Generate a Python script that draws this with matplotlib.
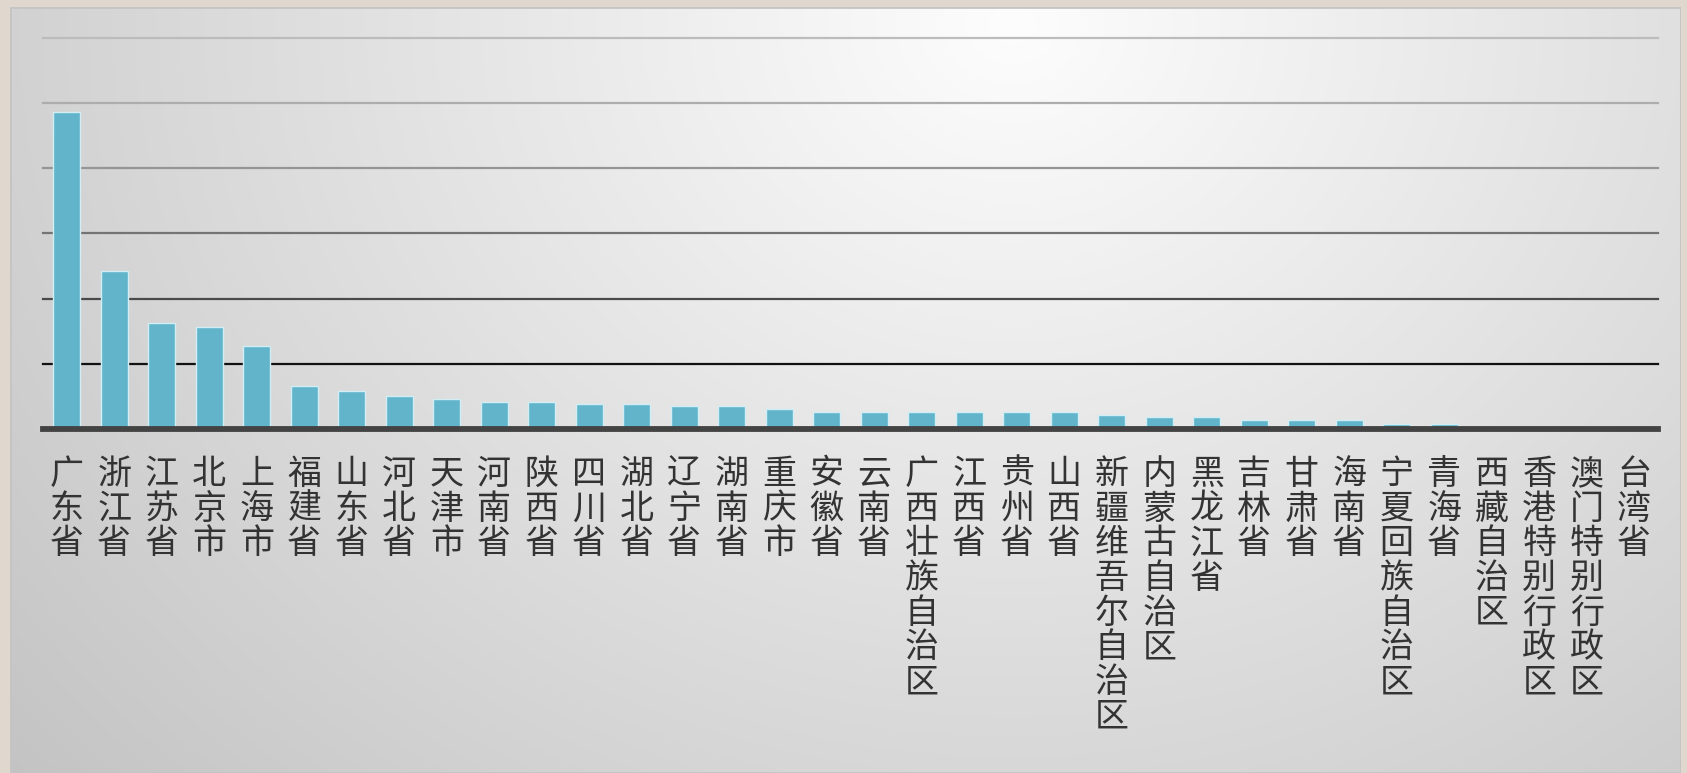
import numpy as np
import matplotlib
matplotlib.use("Agg")
import matplotlib.pyplot as plt

plt.rcParams['font.family'] = ['Noto Sans CJK SC', 'DejaVu Sans']

categories = ["广东省", "浙江省", "江苏省", "北京市", "上海市", "福建省", "山东省", "河北省",
              "天津市", "河南省", "陕西省", "四川省", "湖北省", "辽宁省", "湖南省", "重庆市",
              "安徽省", "云南省", "广西壮族自治区", "江西省", "贵州省", "山西省",
              "新疆维吾尔自治区", "内蒙古自治区", "黑龙江省", "吉林省", "甘肃省", "海南省",
              "宁夏回族自治区", "青海省", "西藏自治区", "香港特别行政区", "澳门特别行政区", "台湾省"]
values = [487, 243, 163, 156, 127, 66, 58, 51,
          46, 42, 42, 38, 38, 35, 35, 30,
          26, 26, 26, 26, 26, 26,
          22, 18, 18, 14, 14, 14,
          7, 7, 0, 0, 0, 0]
grid_levels = [100, 200, 300, 400, 500, 600]
grid_colors = ["#111111", "#4a4a4a", "#747474", "#959595", "#adadad", "#bcbcbc"]

W, H = 1687, 773
fig = plt.figure(figsize=(W / 100, H / 100), dpi=100)
fig.patch.set_facecolor("#e0d8cf")

# background panel with soft radial gradient
px0, py0, px1, py1 = 10, 7, 1681, 773
bg = fig.add_axes([px0 / W, 0, (px1 - px0) / W, (py1 - py0) / H])
nx, ny = 400, 200
xx, yy = np.meshgrid(np.linspace(0, 1, nx), np.linspace(0, 1, ny))
d = np.sqrt(((xx - 0.6) / 0.72) ** 2 + ((yy - 0.02) / 1.35) ** 2)
v = np.clip(253 - 52 * d, 190, 255) / 255.0
img = np.dstack([v, v, v])
bg.imshow(img, aspect="auto", extent=[0, 1, 1, 0], interpolation="bilinear")
bg.set_xlim(0, 1)
bg.set_ylim(1, 0)
bg.axis("off")
bg.add_patch(plt.Rectangle((0, 0), 1, 1, fill=False, edgecolor="#c4c4c4", lw=2, transform=bg.transAxes))

# main axes
left, right = 43, 1658
base_y, top_y = 429, 38
ax = fig.add_axes([left / W, 1 - base_y / H, (right - left) / W, (base_y - top_y) / H])
ax.patch.set_alpha(0)
x = np.arange(len(categories))
ax.set_xlim(-0.5, len(categories) - 0.5)
ax.set_ylim(0, 600)

for lvl, c in zip(grid_levels, grid_colors):
    ax.axhline(lvl, color=c, lw=1.6, zorder=1, clip_on=False)

ax.bar(x, values, width=0.57, color="#62b4cb", edgecolor="#d2eef5", linewidth=1.0, zorder=2)
ax.axhline(0, color="#434343", lw=4.2, zorder=3, clip_on=False)

for s in ax.spines.values():
    s.set_visible(False)
ax.set_yticks([])
ax.set_xticks(x)
ax.set_xticklabels(["\n".join(c) for c in categories], fontsize=24.5, color="#333333",
                   linespacing=0.99, va="top", fontweight="light")
ax.tick_params(axis="x", length=0, pad=20)

fig.savefig("out.png", dpi=100)
